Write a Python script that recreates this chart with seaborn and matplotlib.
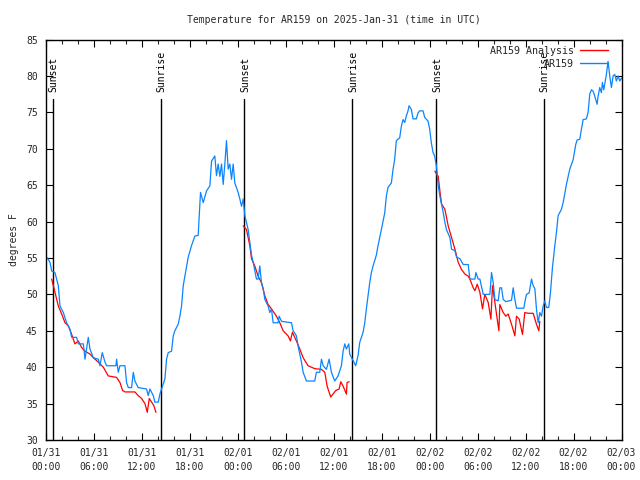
import numpy as np
import pandas as pd
import matplotlib
matplotlib.use("Agg")
import matplotlib.pyplot as plt
from matplotlib.ticker import MultipleLocator
import seaborn as sns

# ---------------- data (hours since 2025-01-31 00:00 UTC, degrees F) ----------------
obs_hours = [0.0, 0.17, 0.5, 0.71, 1.12, 1.54, 1.75, 2.17, 2.58, 3.0, 3.21, 3.83, 4.04, 4.67, 4.88,
             5.29, 5.5, 5.92, 6.54, 6.75, 7.04, 7.38, 7.58, 8.75, 8.83, 9.04, 9.25, 9.88, 10.08, 10.29,
             10.71, 10.92, 11.12, 11.54, 12.58, 12.79, 13.0, 13.42, 13.62, 14.04, 14.25, 14.46, 14.88,
             15.08, 15.29, 15.71, 15.92, 16.12, 16.54, 16.75, 16.96, 17.17, 17.38, 17.58, 17.79, 18.21,
             18.62, 19.04, 19.25, 19.33, 19.67, 20.08, 20.5, 20.71, 21.12, 21.33, 21.54, 21.75, 21.96,
             22.17, 22.38, 22.58, 22.79, 23.0, 23.21, 23.42, 23.62, 24.04, 24.25, 24.46, 24.67, 24.88,
             25.29, 25.5, 25.71, 25.92, 26.33, 26.54, 26.75, 26.96, 27.17, 27.38, 27.79, 28.0, 28.21,
             28.42, 29.04, 29.17, 29.46, 30.71, 30.92, 31.33, 31.54, 31.75, 31.96, 32.17, 32.58, 33.62,
             33.83, 34.25, 34.46, 34.67, 35.08, 35.42, 35.71, 36.12, 36.54, 36.96, 37.17, 37.38, 37.58,
             37.88, 38.0, 38.33, 38.75, 39.04, 39.25, 39.46, 39.67, 39.88, 40.08, 40.29, 40.5, 40.71,
             40.92, 41.33, 41.54, 41.75, 41.96, 42.38, 42.58, 42.79, 43.21, 43.42, 43.62, 43.83, 44.25,
             44.46, 44.67, 44.88, 45.08, 45.29, 45.42, 45.71, 45.92, 46.33, 46.54, 46.75, 47.17, 47.38,
             47.79, 48.0, 48.21, 48.42, 48.62, 48.85, 49.07, 49.28, 49.7, 49.9, 50.1, 50.53, 50.74,
             51.16, 51.36, 51.78, 52.2, 52.82, 53.03, 53.66, 53.78, 54.07, 54.28, 54.7, 55.53, 55.74,
             55.95, 56.16, 56.57, 56.78, 56.99, 57.2, 57.53, 58.24, 58.45, 58.66, 58.86, 59.78, 59.9,
             60.11, 60.45, 60.74, 60.95, 61.16, 61.36, 61.57, 61.78, 61.99, 62.2, 62.4, 62.61, 62.9,
             63.11, 63.36, 63.66, 63.86, 64.07, 64.49, 64.7, 65.11, 65.53, 65.95, 66.28, 66.45, 66.78,
             66.99, 67.2, 67.61, 67.82, 68.03, 68.24, 68.45, 68.66, 68.95, 69.07, 69.28, 69.49, 69.61,
             69.78, 70.11, 70.32, 70.53, 70.74, 70.95, 71.16, 71.36, 71.57, 71.78, 72.0]
obs_temps = [55.0, 55.0, 54.4, 53.2, 53.0, 51.2, 48.4, 47.5, 46.1, 45.2, 44.1, 44.1, 43.2, 43.2, 41.1,
             44.1, 42.5, 41.3, 41.1, 40.2, 42.0, 40.7, 40.2, 40.2, 41.1, 39.3, 40.2, 40.2, 37.9, 37.2,
             37.2, 39.3, 38.1, 37.2, 37.0, 36.1, 37.0, 36.1, 35.2, 35.2, 36.3, 37.0, 38.4,
             41.1, 42.0, 42.2, 44.3, 45.0, 45.9, 47.0, 48.4, 51.2, 52.5, 53.7, 55.1, 56.7,
             58.0, 58.1, 62.4, 64.0, 62.6, 64.2, 64.9, 68.3, 69.0, 66.3, 67.9, 66.2, 67.9,
             65.1, 68.0, 71.1, 67.2, 67.9, 65.8, 67.9, 65.3, 64.0, 63.1, 62.1, 63.1, 60.8,
             58.9, 57.1, 55.4, 54.4, 52.1, 52.1, 53.9, 51.6, 50.8, 49.3, 48.4, 47.5, 48.0,
             46.1, 46.1, 47.0, 46.3, 46.1, 45.0, 44.3, 42.9, 41.8, 40.7, 39.3, 38.1, 38.1,
             39.3, 39.3, 41.1, 40.2, 39.7, 41.1, 39.3, 38.1, 38.8, 40.2, 42.2, 43.2, 42.5,
             43.2, 41.8, 41.1, 40.2, 41.6, 43.4, 44.1, 44.8, 46.1, 48.0, 49.8, 51.6, 53.0,
             53.9, 55.4, 56.7, 57.8, 58.9, 61.2, 63.5, 64.7, 65.3, 67.2, 68.5, 71.1, 71.5,
             73.1, 74.0, 73.6, 74.5, 75.2, 75.9, 75.4, 74.1, 74.1, 74.9, 75.2, 75.2, 74.3,
             73.8, 72.7, 70.8, 69.5, 69.0, 67.6, 64.9, 63.5, 61.2, 59.9, 58.9, 57.8, 56.2,
             56.0, 55.1, 54.9, 54.1, 54.1, 52.1, 52.1, 53.0, 52.1, 52.1, 50.0, 50.0, 53.0,
             51.6, 49.3, 49.1, 50.9, 50.9, 49.3, 49.0, 49.2, 50.9, 49.3, 48.1, 48.1, 48.9,
             50.0, 50.2, 52.1, 51.2, 50.8, 48.0, 46.1, 47.5, 47.0, 48.4, 49.1, 48.2, 48.2,
             50.2, 53.7, 56.7, 58.5, 60.8, 61.7, 62.6, 65.1, 67.2, 68.5, 70.6, 71.2, 71.3,
             72.7, 74.0, 74.1, 75.0, 77.5, 78.1, 77.9, 77.2, 76.1, 77.2, 78.4, 77.7, 79.1,
             78.1, 80.2, 82.0, 80.0, 78.4, 80.0, 80.2, 79.3, 80.0, 79.3, 79.7]

# Analysis series: three night-time segments
ana1_hours = [0.71, 1.12, 1.54, 1.96, 2.38, 2.79, 3.21, 3.62, 4.04, 4.46, 4.88, 5.5, 5.92, 6.54, 7.17,
              7.79, 8.83, 9.25, 9.58, 9.88, 11.12, 11.54, 11.96, 12.38, 12.67, 12.92, 13.21, 13.5, 13.75]
ana1_temps = [52.1, 50.3, 48.4, 47.3, 46.1, 45.7, 44.5, 43.2, 43.6, 42.7, 42.2, 41.8, 41.3, 40.7, 40.0,
              38.8, 38.6, 37.9, 36.8, 36.6, 36.6, 36.1, 35.7, 35.0, 33.8, 35.7, 35.2, 34.7, 33.8]
ana2_hours = [24.67, 25.08, 25.5, 25.71, 26.12, 26.54, 26.96, 27.38, 27.79, 28.21, 28.83, 29.25, 29.67,
              30.29, 30.58, 30.83, 31.33, 31.75, 32.17, 32.79, 33.62, 34.46, 34.88, 35.17, 35.62, 36.25,
              36.67, 36.88, 37.17, 37.58, 37.67, 37.92]
ana2_temps = [59.4, 58.9, 56.7, 54.9, 53.9, 52.5, 51.6, 49.8, 48.6, 48.0, 47.0, 46.1, 45.0,
              44.3, 43.6, 44.8, 43.6, 42.5, 41.3, 40.2, 39.8, 39.7, 39.3, 37.4, 35.9, 36.8,
              37.0, 38.0, 37.4, 36.3, 37.9, 38.0]
ana3_hours = [48.66, 49.07, 49.28, 49.49, 49.9, 50.32, 50.74, 51.16, 51.57, 51.99, 52.4, 52.82, 53.03,
              53.45, 53.66, 53.95, 54.28, 54.61, 54.9, 55.32, 55.66, 55.86, 56.16, 56.45, 56.66, 56.78,
              57.2, 57.53, 57.82, 58.24, 58.66, 58.86, 59.2, 59.61, 59.9, 60.32, 60.95, 61.36, 61.66, 61.78]
ana3_temps = [66.9, 66.2, 64.2, 62.4, 61.7, 59.4, 57.8, 56.2, 54.4, 53.4, 52.8, 52.5, 52.1,
              50.9, 50.5, 51.4, 50.3, 48.0, 50.0, 48.9, 46.6, 51.2, 48.9, 46.6, 45.0, 48.6,
              47.5, 47.0, 47.3, 45.9, 44.3, 47.0, 46.6, 44.5, 47.5, 47.4, 47.4, 45.9, 45.0, 46.3]

sun_events = ["Sunset", "Sunrise", "Sunset", "Sunrise", "Sunset", "Sunrise"]
sun_hours = [0.85, 14.35, 24.8, 38.3, 48.82, 62.3]

tick_hours = [0, 6, 12, 18, 24, 30, 36, 42, 48, 54, 60, 66, 72]
tick_labels = ["01/31\n00:00", "01/31\n06:00", "01/31\n12:00", "01/31\n18:00",
               "02/01\n00:00", "02/01\n06:00", "02/01\n12:00", "02/01\n18:00",
               "02/02\n00:00", "02/02\n06:00", "02/02\n12:00", "02/02\n18:00",
               "02/03\n00:00"]

series_names = ["AR159 Analysis", "AR159"]
series_colors = {"AR159 Analysis": "#ff0000", "AR159": "#0a84ff"}

# ---------------- build long-form table ----------------
frames = []
for seg, (hh, tt) in enumerate([(ana1_hours, ana1_temps), (ana2_hours, ana2_temps), (ana3_hours, ana3_temps)]):
    frames.append(pd.DataFrame({"hour": hh, "temp": tt, "series": "AR159 Analysis", "seg": seg}))
frames.append(pd.DataFrame({"hour": obs_hours, "temp": obs_temps, "series": "AR159", "seg": 10}))
df = pd.concat(frames, ignore_index=True)

sns.set_theme(style="ticks")
plt.rcParams["font.family"] = ["DejaVu Sans Mono", "DejaVu Sans"]
plt.rcParams["font.size"] = 7

fig = plt.figure(figsize=(6.4, 4.8), dpi=100)
ax = fig.add_axes([46 / 640, 1 - 440 / 480, (621.5 - 46) / 640, (440 - 39.5) / 480])

sns.lineplot(data=df, x="hour", y="temp", hue="series", units="seg", estimator=None,
             hue_order=series_names, palette=series_colors, linewidth=0.9, ax=ax,
             sort=False)

for name, h in zip(sun_events, sun_hours):
    ax.axvline(h, ymin=0, ymax=(440 - 99) / 400.5, color="black", linewidth=1.0, zorder=1)
    ax.text(h + 0.1, 85 - (92 - 39.5) / 400.5 * 55, name, rotation=90, ha="center", va="bottom",
            fontsize=7, color="black")

ax.set_xlim(0, 72)
ax.set_ylim(30, 85)
ax.set_xticks(tick_hours)
ax.set_xticklabels(tick_labels, linespacing=1.5)
ax.xaxis.set_minor_locator(MultipleLocator(2))
ax.yaxis.set_major_locator(MultipleLocator(5))
ax.tick_params(axis="both", which="major", direction="in", length=5, width=0.8,
               top=True, right=True, labelsize=7, color="black")
ax.tick_params(axis="x", which="minor", direction="in", length=3, width=0.8, top=True)
ax.tick_params(axis="x", which="major", pad=6)
ax.tick_params(axis="y", which="major", pad=6)
for sp in ax.spines.values():
    sp.set_linewidth(1.0)
    sp.set_color("black")

ax.set_xlabel("")
ax.set_ylabel("degrees F", fontsize=7, labelpad=5)
ax.set_title("Temperature for AR159 on 2025-Jan-31 (time in UTC)", fontsize=7, pad=12)

leg = ax.legend(loc="upper right", markerfirst=False, frameon=False, fontsize=7.2,
                handlelength=2.8, handletextpad=0.6, labelspacing=0.3,
                borderaxespad=0.0, bbox_to_anchor=(0.984, 0.995))
for line in leg.get_lines():
    line.set_linewidth(1.0)

fig.savefig("out.png", dpi=100)
